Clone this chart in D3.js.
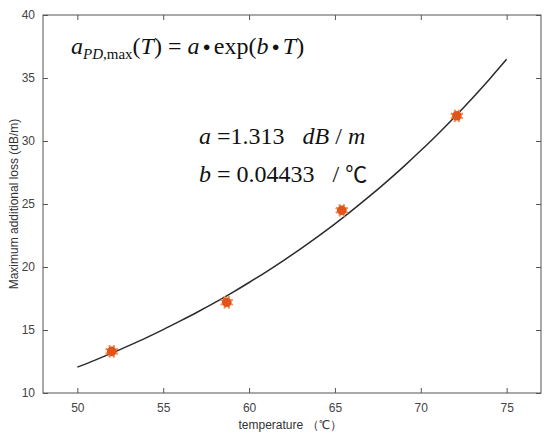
<!DOCTYPE html>
<html><head><meta charset="utf-8">
<script src="https://cdn.jsdelivr.net/npm/d3@7"></script>
<style>body{margin:0;background:#fff}svg{display:block}</style>
</head><body>
<svg id="c" width="550" height="441"></svg>
<script>
const xTicks = [50, 55, 60, 65, 70, 75];
const yTicks = [10, 15, 20, 25, 30, 35, 40];
const measT = [52.0, 58.7, 65.4, 72.1];
const measLoss = [13.3, 17.2, 24.5, 32.0];
const fitT = [50,51,52,53,54,55,56,57,58,59,60,61,62,63,64,65,66,67,68,69,70,71,72,73,74,75];
const fitLoss = [12.05,12.59,13.16,13.76,14.38,15.03,15.72,16.43,17.17,17.95,18.77,19.62,20.51,21.44,22.41,23.42,24.49,25.60,26.76,27.97,29.24,30.56,31.95,33.40,34.91,36.49];

const svg = d3.select("#c");
const L = 43, R = 541, T = 15, B = 393;
const x = d3.scaleLinear().domain([48, 77]).range([L, R]);
const y = d3.scaleLinear().domain([10, 40]).range([B, T]);
const axCol = "#555";
const tickFont = "Liberation Sans, Arial, sans-serif";

svg.append("rect").attr("x", L).attr("y", T).attr("width", R - L).attr("height", B - T)
  .attr("fill", "none").attr("stroke", axCol).attr("stroke-width", 1);

const gx = svg.append("g").attr("transform", `translate(0,${B})`)
  .call(d3.axisBottom(x).tickValues(xTicks).tickSizeInner(-5).tickSizeOuter(0).tickPadding(10));
const gxt = svg.append("g").attr("transform", `translate(0,${T})`)
  .call(d3.axisTop(x).tickValues(xTicks).tickSizeInner(-5).tickSizeOuter(0).tickFormat(""));
const gy = svg.append("g").attr("transform", `translate(${L},0)`)
  .call(d3.axisLeft(y).tickValues(yTicks).tickSizeInner(-5).tickSizeOuter(0).tickPadding(8));
const gyr = svg.append("g").attr("transform", `translate(${R},0)`)
  .call(d3.axisRight(y).tickValues(yTicks).tickSizeInner(-5).tickSizeOuter(0).tickFormat(""));
[gx, gxt, gy, gyr].forEach(g => {
  g.select(".domain").remove();
  g.selectAll("line").attr("stroke", axCol);
  g.selectAll("text").attr("fill", "#444").attr("font-size", 12).attr("font-family", tickFont);
});

const line = d3.line().x((d, i) => x(fitT[i])).y(d => y(d)).curve(d3.curveMonotoneX);
svg.append("path").attr("d", line(fitLoss)).attr("fill", "none")
  .attr("stroke", "#2b2b2b").attr("stroke-width", 1.5);

const mk = svg.append("g");
measLoss.forEach((v, i) => {
  const g = mk.append("g").attr("transform", `translate(${x(measT[i])},${y(v)})`);
  for (let k = 0; k < 8; k++) {
    const ang = k * Math.PI / 4 + Math.PI / 8;
    g.append("line").attr("x1", -6.5 * Math.cos(ang)).attr("y1", -6.5 * Math.sin(ang))
      .attr("x2", 6.5 * Math.cos(ang)).attr("y2", 6.5 * Math.sin(ang))
      .attr("stroke", "#f0905a").attr("stroke-width", 1.8);
  }
  g.append("circle").attr("r", 4.8).attr("fill", "#e2541a");
});

const serif = "Liberation Serif, Times New Roman, serif";
const NB = "\u00a0";

const f1 = svg.append("text").attr("x", 71).attr("y", 54).attr("font-family", serif).attr("font-size", 24).attr("fill", "#111");
f1.append("tspan").attr("font-style", "italic").text("a");
f1.append("tspan").attr("font-style", "italic").attr("font-size", 15).attr("dy", 5).text("PD");
f1.append("tspan").attr("font-size", 15).text(",max");
f1.append("tspan").attr("dy", -5).text("(");
f1.append("tspan").attr("font-style", "italic").text("T");
f1.append("tspan").text(") = ");
f1.append("tspan").attr("font-style", "italic").text("a");
f1.append("tspan").attr("font-size", 13).attr("dy", -3).text(NB + "\u25CF" + NB);
f1.append("tspan").attr("dy", 3).text("exp(");
f1.append("tspan").attr("font-style", "italic").text("b");
f1.append("tspan").attr("font-size", 13).attr("dy", -3).text(NB + "\u25CF" + NB);
f1.append("tspan").attr("dy", 3).attr("font-style", "italic").text("T");
f1.append("tspan").text(")");

const f2 = svg.append("text").attr("x", 199).attr("y", 144).attr("font-family", serif).attr("font-size", 24).attr("fill", "#111");
f2.append("tspan").attr("font-style", "italic").text("a");
f2.append("tspan").text(NB + "=1.313" + NB + NB + NB);
f2.append("tspan").attr("font-style", "italic").text("dB");
f2.append("tspan").text(NB + "/" + NB);
f2.append("tspan").attr("font-style", "italic").text("m");

const f3 = svg.append("text").attr("x", 199).attr("y", 182).attr("font-family", serif).attr("font-size", 24).attr("fill", "#111");
f3.append("tspan").attr("font-style", "italic").text("b");
f3.append("tspan").text(NB + "=" + NB + "0.04433" + NB + NB + NB + "/" + NB);
f3.append("tspan").attr("font-family", "Noto Sans CJK SC, serif").attr("font-size", 22).text("\u2103");

svg.append("text").attr("x", 290).attr("y", 429).attr("text-anchor", "middle")
  .attr("font-family", tickFont).attr("font-size", 12).attr("fill", "#333").text("temperature \uff08\u2103\uff09");
svg.append("text").attr("transform", `translate(18,${(T + B) / 2}) rotate(-90)`).attr("text-anchor", "middle")
  .attr("font-family", tickFont).attr("font-size", 12).attr("fill", "#333").text("Maximum additional loss (dB/m)");
</script>
</body></html>
